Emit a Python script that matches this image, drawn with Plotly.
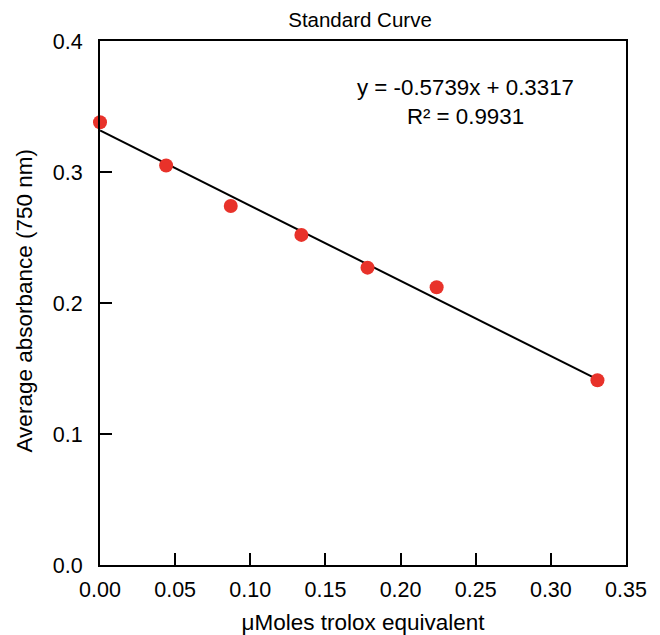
import plotly.graph_objects as go

# Data
trolox_umol = [0.0, 0.044, 0.087, 0.134, 0.178, 0.224, 0.331]
avg_absorbance = [0.338, 0.305, 0.274, 0.252, 0.227, 0.212, 0.141]

# Linear trendline parameters (from the chart's equation)
slope = -0.5739
intercept = 0.3317
r_squared = 0.9931

x_ticks = [0.0, 0.05, 0.10, 0.15, 0.20, 0.25, 0.30, 0.35]
y_ticks = [0.0, 0.1, 0.2, 0.3, 0.4]

x_title = "μMoles trolox equivalent"
y_title = "Average absorbance (750 nm)"
chart_title = "Standard Curve"

FONT = "Liberation Sans, Arial, sans-serif"

x_fit = [min(trolox_umol), max(trolox_umol)]
y_fit = [slope * v + intercept for v in x_fit]

fig = go.Figure()
fig.add_trace(go.Scatter(
    x=x_fit, y=y_fit, mode="lines",
    line=dict(color="black", width=2), hoverinfo="skip", showlegend=False,
))
fig.add_trace(go.Scatter(
    x=trolox_umol, y=avg_absorbance, mode="markers",
    marker=dict(color="#e8322a", size=14, line=dict(width=0)),
    showlegend=False, cliponaxis=False,
))

fig.add_annotation(
    x=0.2435, y=0.3538, xref="x", yref="y",
    text=f"y = {slope}x + {intercept}<br>R² = {r_squared}",
    showarrow=False, font=dict(family=FONT, size=22.3, color="black"),
    align="center",
)

# y-axis title placed as rotated text so it sits where the reference has it
fig.add_annotation(
    x=-0.1445, y=0.5048, xref="paper", yref="paper",
    text=y_title, textangle=-90, showarrow=False,
    xanchor="center", yanchor="middle",
    font=dict(family=FONT, size=22.5, color="black"),
)

# page has an 8px body margin; figure sized so the plot box lands where the reference has it
fig.update_layout(
    width=652, height=627,
    margin=dict(l=92, r=34, t=33, b=70, autoexpand=False),
    paper_bgcolor="white", plot_bgcolor="white",
    font=dict(family=FONT, color="black"),
    title=dict(text=chart_title, x=0.5399, xanchor="center", y=0.9809, yanchor="middle",
               font=dict(family=FONT, size=20.5, color="black"), automargin=False),
)
fig.update_xaxes(
    range=[0, 0.35], tickvals=x_ticks, tickformat=".2f",
    showgrid=False, zeroline=False, automargin=False,
    showline=True, linecolor="black", linewidth=2, mirror=True,
    ticks="inside", ticklen=12, tickwidth=2, tickcolor="black",
    tickfont=dict(family=FONT, size=21.5, color="black"), ticklabelstandoff=4,
    title=dict(text=x_title, font=dict(family=FONT, size=22.5, color="black"), standoff=19),
)
fig.update_yaxes(
    range=[0, 0.4], tickvals=y_ticks, tickformat=".1f",
    showgrid=False, zeroline=False, automargin=False,
    showline=True, linecolor="black", linewidth=2, mirror=True,
    ticks="inside", ticklen=12, tickwidth=2, tickcolor="black",
    tickfont=dict(family=FONT, size=21.5, color="black"), ticklabelstandoff=11,
)

fig.write_html("out.html")
